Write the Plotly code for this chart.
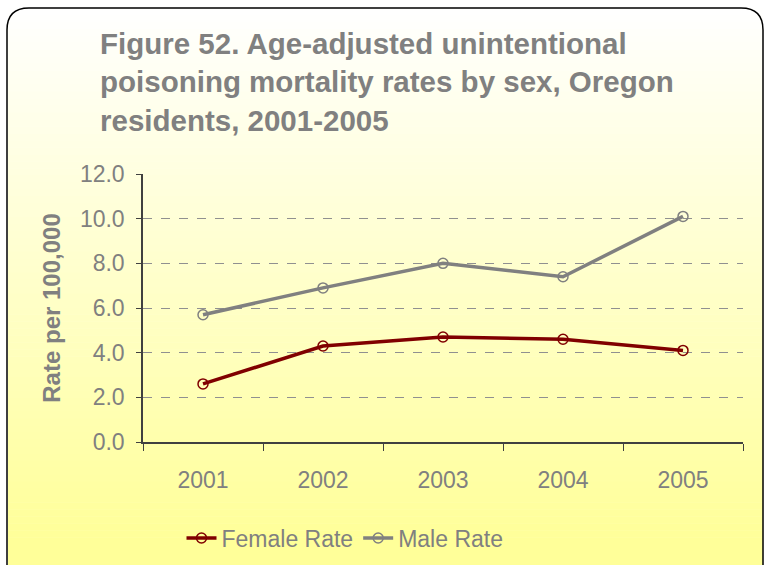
import plotly.graph_objects as go

years = ["2001", "2002", "2003", "2004", "2005"]
female_rate = [2.6, 4.3, 4.7, 4.6, 4.1]
male_rate = [5.7, 6.9, 8.0, 7.4, 10.1]
y_ticks = [0, 2, 4, 6, 8, 10, 12]
y_tick_labels = ["0.0", "2.0", "4.0", "6.0", "8.0", "10.0", "12.0"]

W, H = 765, 565
ML, MR, MT, MB = 143, 22, 174, 123
PW, PH = W - ML - MR, H - MT - MB

def px(x):
    return (x - ML) / PW

def py(y):
    return 1 - (y - MT) / PH

FONT = "Liberation Sans, Arial, sans-serif"
GRAY = "#808080"

fig = go.Figure()
fig.add_trace(go.Scatter(
    x=years, y=female_rate, name="Female Rate", mode="lines+markers",
    line=dict(color="#800000", width=3.5),
    marker=dict(symbol="circle-open", size=10, color="#800000", line=dict(width=1.5)),
))
fig.add_trace(go.Scatter(
    x=years, y=male_rate, name="Male Rate", mode="lines+markers",
    line=dict(color="#808080", width=3.5),
    marker=dict(symbol="circle-open", size=10, color="#808080", line=dict(width=1.5)),
))

shapes = []
top, bot = 8, H
n = 80
for i in range(n):
    y0 = top + (bot - top) * i / n
    y1 = top + (bot - top) * (i + 1) / n + 0.5
    t = (i + 0.5) / n
    b = int(round(255 - (255 - 153) * min(1, t * 1.05)))
    shapes.append(dict(type="rect", xref="paper", yref="paper",
                       x0=px(8), x1=px(763), y0=py(y0), y1=py(y1),
                       fillcolor=f"rgb(255,255,{b})", line=dict(width=0), layer="below"))
r = 22
x0f, y0f, x1f, y1f = 7, 8, 763, 580
path = (f"M {px(x0f)} {py(y1f)} L {px(x0f)} {py(y0f + r)} "
        f"Q {px(x0f)} {py(y0f)} {px(x0f + r)} {py(y0f)} "
        f"L {px(x1f - r)} {py(y0f)} Q {px(x1f)} {py(y0f)} {px(x1f)} {py(y0f + r)} "
        f"L {px(x1f)} {py(y1f)}")
shapes.append(dict(type="path", xref="paper", yref="paper", path=path,
                   line=dict(color="black", width=1.5), layer="above"))

fig.update_layout(
    width=W, height=H,
    margin=dict(l=ML, r=MR, t=MT, b=MB, autoexpand=False),
    paper_bgcolor="white", plot_bgcolor="rgba(0,0,0,0)",
    shapes=shapes,
    font=dict(family=FONT, color=GRAY, size=23),
    title=dict(
        text="Figure 52. Age-adjusted unintentional<br>poisoning mortality rates by sex, Oregon<br>residents, 2001-2005",
        x=100 / W, xanchor="left", xref="container",
        y=1 - 54 / H, yanchor="top", yref="container",
        font=dict(family=FONT, size=29.5, color=GRAY, weight="bold"),
    ),
    xaxis=dict(
        type="category", showgrid=False, showline=True, linecolor="#404040", linewidth=1.5,
        ticks="outside", ticklen=7, tickcolor="#404040", tickson="boundaries",
        tickfont=dict(size=23, color=GRAY), range=[-0.5, 4.5], ticklabelstandoff=17,
        automargin=False,
    ),
    yaxis=dict(
        range=[0, 12], tickvals=y_ticks, ticktext=y_tick_labels,
        showline=True, linecolor="#404040", linewidth=1.5,
        ticks="outside", ticklen=5, tickcolor="#404040",
        showgrid=True, gridcolor="#909090", griddash="dash", gridwidth=1,
        zeroline=False, ticklabelstandoff=7, automargin=False,
        tickfont=dict(size=23, color=GRAY),
        title=dict(text="<b>Rate per 100,000</b>", font=dict(size=24, color=GRAY), standoff=12),
    ),
    legend=dict(
        orientation="h", x=px(345), xanchor="center", y=py(538), yanchor="middle",
        font=dict(size=23, color=GRAY), bgcolor="rgba(0,0,0,0)",
        itemwidth=30, tracegroupgap=0,
    ),
)

fig.write_html("out.html", config={"displayModeBar": False},
               post_script="document.body.style.margin='0';")
